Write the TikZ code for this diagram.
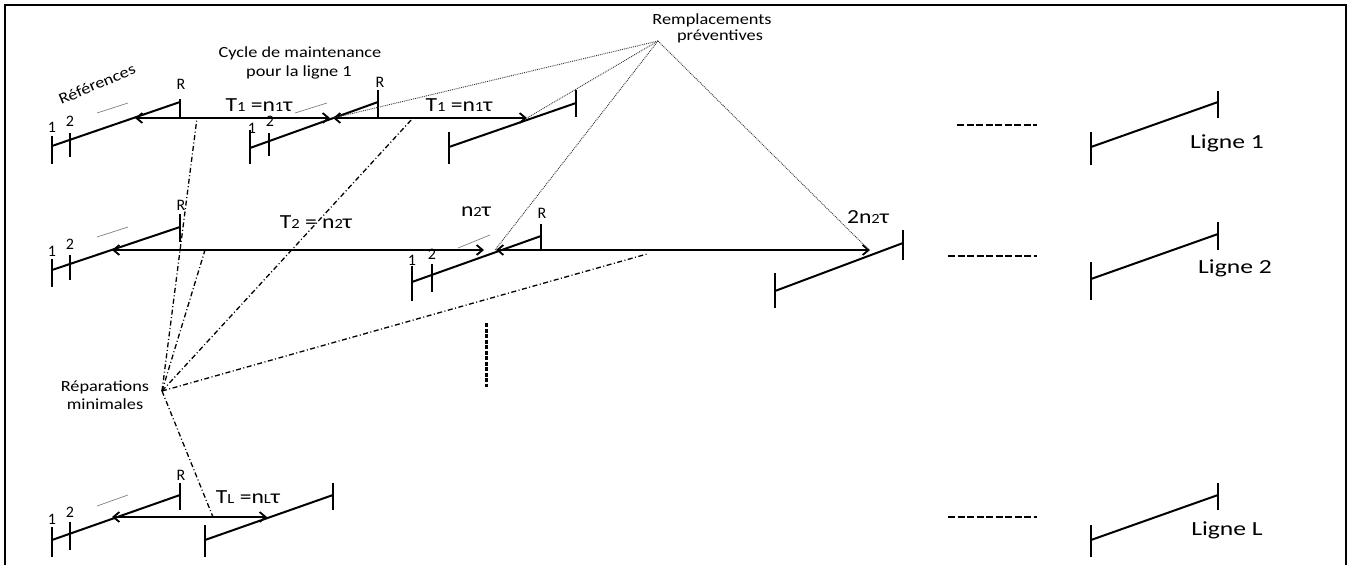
\documentclass[tikz,border=0pt]{standalone}
\usepackage{fontspec}
\setmainfont{Carlito}
\usetikzlibrary{arrows.meta}
\newcommand{\wx}[1]{\scalebox{1.18}[1]{#1}}
\newcommand{\wl}[1]{\scalebox{1.28}[1]{#1}}
\newcommand{\lowd}[1]{{\fontsize{14}{14}\selectfont #1}}
\tikzset{
  seg/.style={line width=2pt, line cap=round},
  tk/.style={line width=2.6pt},
  arr/.style={line width=2.2pt, {Straight Barb[length=6pt,width=10pt,line width=1.8pt]}-{Straight Barb[length=6pt,width=10pt,line width=1.8pt]}},
  gdash/.style={line width=0.7pt, gray},
  dots/.style={line width=0.9pt, densely dotted, black!80},
  dashdot/.style={line width=1.3pt, dash pattern=on 5pt off 2.5pt on 1pt off 2.5pt},
  etc/.style={line width=2.6pt, dash pattern=on 7pt off 2.5pt},
  lbl/.style={font=\fontsize{15.5}{17}\selectfont, inner sep=0pt},
  big/.style={font=\fontsize{20}{22}\selectfont, inner sep=0pt},
  num/.style={font=\fontsize{16}{16}\selectfont, inner sep=0pt},
}
\begin{document}
\begin{tikzpicture}[x=1pt,y=-1pt]
\useasboundingbox (0,0) rectangle (1353,565);
% frame
\draw[line width=2.2pt] (5,566) -- (5,5) -- (1346,5) -- (1346,566);

% ---------- Row 1 ----------
\draw[tk] (52,136) -- (52,164);
\draw[tk] (70,133) -- (70,157);
\draw[seg] (52,146) -- (180,102);
\draw[tk] (180,99) -- (180,118);
\node[num] (r1a1) at (52,127) {1};
\node[num] (r1a2) at (70,121) {2};
\node[num] (r1aR) at (181,84) {R};
\draw[gdash] (97,113) -- (128,103);

\draw[tk] (250,130) -- (250,164);
\draw[tk] (269,133) -- (269,156);
\draw[seg] (250,148) -- (378,102);
\draw[tk] (378,90) -- (378,118);
\node[num] (r1b1) at (252,128) {1};
\node[num] (r1b2) at (270,121) {2};
\node[num] (r1bR) at (380,82) {R};
\draw[gdash] (295,113) -- (327,103);

\draw[tk] (449,132) -- (449,164);
\draw[seg] (449,147) -- (576,103);
\draw[tk] (576,90) -- (576,117);

\coordinate (h1a) at (135,118);
\coordinate (h1b) at (330,118);
\coordinate (h1c) at (333,118);
\coordinate (h1d) at (527,118);
\draw[arr] (h1a) -- (h1b);
\draw[arr] (h1c) -- (h1d);
\node[big] (t1a) at (259,105) {\wx{T\lowd{1} =n\lowd{1}τ}};
\node[big] (t1b) at (459,105) {\wx{T\lowd{1} =n\lowd{1}τ}};

\node[lbl] (cyc1) at (300,53) {\wx{Cycle de maintenance}};
\node[lbl] (cyc2) at (299,72) {\wx{pour la ligne 1}};
\node[lbl, rotate=23] (refs) at (97,84) {\wx{Références}};

\draw[etc] (957,125) -- (1037,125);
\draw[tk] (1091,132) -- (1091,165);
\draw[seg] (1091,147) -- (1218,102);
\draw[tk] (1218,91) -- (1218,118);
\node[big] (l1) at (1227,143) {\wl{Ligne 1}};

% ---------- Row 2 ----------
\draw[tk] (52,259) -- (52,287);
\draw[tk] (70,255) -- (70,280);
\draw[seg] (52,270) -- (180,227);
\draw[tk] (180,214) -- (180,242);
\node[num] (r2a1) at (52,251) {1};
\node[num] (r2a2) at (70,244) {2};
\node[num] (r2aR) at (181,205) {R};
\draw[gdash] (97,237) -- (128,227);

\draw[tk] (412,266) -- (412,301);
\draw[tk] (432,264) -- (432,292);
\draw[seg] (412,282) -- (541,236);
\draw[tk] (541,224) -- (541,250);
\node[num] (r2b1) at (412,260) {1};
\node[num] (r2b2) at (432,254) {2};
\node[num] (r2bR) at (542,213) {R};
\draw[gdash] (458,248) -- (490,235);

\draw[tk] (775,273) -- (775,308);
\draw[seg] (775,291) -- (903,243);
\draw[tk] (903,230) -- (903,260);

\coordinate (h2a) at (112,250);
\coordinate (h2b) at (484,250);
\coordinate (h2c) at (496,250);
\coordinate (h2d) at (870,250);
\draw[arr] (h2a) -- (h2b);
\draw[arr] (h2c) -- (h2d);
\node[big] (t2) at (316,222) {\wx{T\lowd{2} = n\lowd{2}τ}};
\node[big] (n2t) at (476,212) {\wx{n\lowd{2}τ}};
\node[big] (n22t) at (868,217) {\wx{2n\lowd{2}τ}};

\draw[etc] (948,256) -- (1037,256);
\draw[tk] (1091,262) -- (1091,300);
\draw[seg] (1091,279) -- (1218,234);
\draw[tk] (1218,222) -- (1218,250);
\node[big] (l2) at (1235,268) {\wl{Ligne 2}};

% ---------- Row L ----------
\draw[tk] (52,527) -- (52,557);
\draw[tk] (70,522) -- (70,550);
\draw[seg] (52,540) -- (180,495);
\draw[tk] (180,483) -- (180,510);
\node[num] (rLa1) at (52,519) {1};
\node[num] (rLa2) at (70,512) {2};
\node[num] (rLaR) at (181,475) {R};
\draw[gdash] (97,506) -- (128,495);

\draw[tk] (205,525) -- (205,557);
\draw[seg] (205,540) -- (333,495);
\draw[tk] (333,483) -- (333,510);

\coordinate (hLa) at (112,517);
\coordinate (hLb) at (267,517);
\draw[arr] (hLa) -- (hLb);
\node[big] (tL) at (248,497) {\wx{T\lowd{L} =n\lowd{L}τ}};

\draw[etc] (948,517) -- (1037,517);
\draw[tk] (1091,525) -- (1091,557);
\draw[seg] (1091,540) -- (1218,495);
\draw[tk] (1218,483) -- (1218,510);
\node[big] (lL) at (1227,530) {\wl{Ligne L}};

% vertical ellipsis
\draw[line width=3pt, dash pattern=on 4pt off 1.5pt] (486,323) -- (486,387);

% ---------- annotations ----------
\node[lbl] (rem1) at (712,20) {\wx{Remplacements}};
\node[lbl] (rem2) at (720,36) {\wx{préventives}};
\coordinate (P) at (658,41);
\coordinate (p2) at (495,250);
\coordinate (p4) at (868,249);
\draw[dots] (P) -- (h1c);
\draw[dots] (P) -- (h1d);
\draw[dots] (P) -- (p2);
\draw[dots] (P) -- (p4);

\node[lbl] (rep1) at (105,387) {\wx{Réparations}};
\node[lbl] (rep2) at (105,404) {\wx{minimales}};
\coordinate (M) at (162,391);
\coordinate (m1) at (197,118);
\coordinate (m2) at (413,118);
\coordinate (m3) at (205,250);
\coordinate (m4) at (647,254);
\coordinate (m5) at (213,517);
\draw[dashdot] (M) -- (m1);
\draw[dashdot] (M) -- (m2);
\draw[dashdot] (M) -- (m3);
\draw[dashdot] (M) -- (m4);
\draw[dashdot] (M) -- (m5);
\end{tikzpicture}
\end{document}
